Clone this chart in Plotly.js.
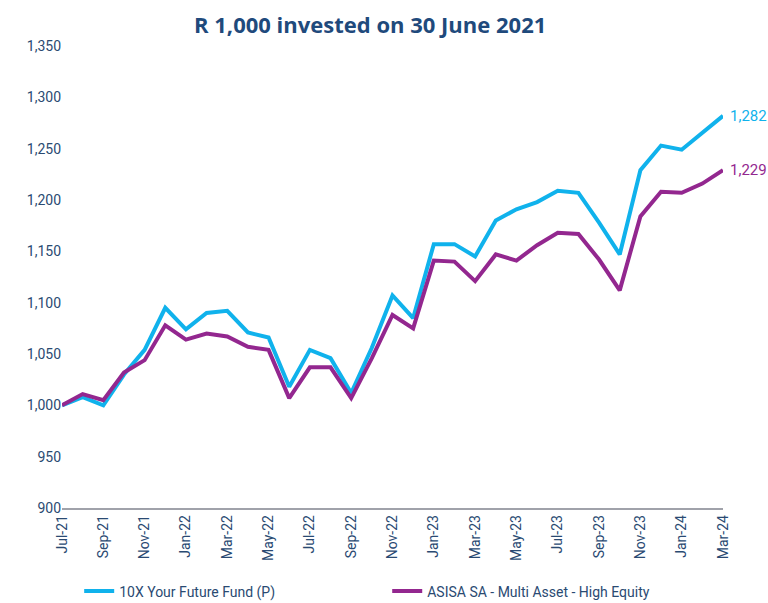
<!DOCTYPE html>
<html><head><meta charset="utf-8">
<script src="https://cdn.plot.ly/plotly-3.0.1.min.js"></script>
<style>body{margin:0;background:#fff}#c{width:768px;height:603px}</style>
</head><body><div id="c"></div>
<script>
const months = ["Jul-21","Aug-21","Sep-21","Oct-21","Nov-21","Dec-21","Jan-22","Feb-22","Mar-22","Apr-22","May-22","Jun-22","Jul-22","Aug-22","Sep-22","Oct-22","Nov-22","Dec-22","Jan-23","Feb-23","Mar-23","Apr-23","May-23","Jun-23","Jul-23","Aug-23","Sep-23","Oct-23","Nov-23","Dec-23","Jan-24","Feb-24","Mar-24"];
const fundName = "10X Your Future Fund (P)";
const fundValues = [1000,1008,1000,1030,1054,1095,1074,1090,1092,1071,1066,1018,1054,1046,1012,1056,1107,1085,1157,1157,1145,1180,1191,1198,1209,1207,1178,1147,1229,1253,1249,1265,1282];
const peerName = "ASISA SA - Multi Asset - High Equity";
const peerValues = [1000,1011,1005,1032,1044,1078,1064,1070,1067,1057,1054,1007,1037,1037,1007,1046,1088,1075,1141,1140,1121,1147,1141,1156,1168,1167,1142,1112,1184,1208,1207,1216,1229];
const tickLabels = months.filter((m,i)=>i%2===0);
const yTicks = [900,950,1000,1050,1100,1150,1200,1250,1300,1350];

const blue = "#10b2ec", purple = "#93278f", textCol = "#2a4a72";
const n = months.length;
const traces = [
  {x: months, y: fundValues, name: fundName, type: "scatter", mode: "lines", line: {color: blue, width: 4}, legend: "legend"},
  {x: months, y: peerValues, name: peerName, type: "scatter", mode: "lines", line: {color: purple, width: 4}, legend: "legend2"}
];
const legendBase = {orientation: "h", xanchor: "left", y: -0.146, yanchor: "top", font: {size: 14, color: textCol}, bgcolor: "rgba(0,0,0,0)"};
const layout = {
  width: 768, height: 603,
  margin: {l: 62, r: 45, t: 46, b: 95, autoexpand: false},
  paper_bgcolor: "#fff", plot_bgcolor: "#fff",
  font: {family: "Roboto, 'Liberation Sans', sans-serif", size: 14, color: textCol},
  title: {text: "<b>R 1,000 invested on 30 June 2021</b>", x: 0.482, xanchor: "center", y: 0.958, yanchor: "middle",
          font: {family: "'Open Sans', sans-serif", size: 22, color: "#1f4a7c"}},
  showlegend: true,
  legend: Object.assign({}, legendBase, {x: 0.026}),
  legend2: Object.assign({}, legendBase, {x: 0.492}),
  xaxis: {type: "category", range: [0, n-1], tickmode: "array", tickvals: tickLabels, ticktext: tickLabels,
          tickangle: -90, showgrid: false, zeroline: false, showline: true, linecolor: "#a0a2aa", linewidth: 1.5,
          ticks: "", automargin: false, tickfont: {size: 14, color: textCol}},
  yaxis: {range: [900, 1350], tickmode: "array", tickvals: yTicks, tickformat: ",d", showgrid: false,
          zeroline: false, showline: false, ticks: "", automargin: false, tickfont: {size: 14, color: textCol}},
  annotations: [
    {x: n-1, y: fundValues[n-1], xref: "x", yref: "y", text: fundValues[n-1].toLocaleString("en-US"), showarrow: false,
     xanchor: "left", xshift: 5, font: {size: 15, color: blue}},
    {x: n-1, y: peerValues[n-1], xref: "x", yref: "y", text: peerValues[n-1].toLocaleString("en-US"), showarrow: false,
     xanchor: "left", xshift: 5, font: {size: 15, color: purple}}
  ]
};
Plotly.newPlot("c", traces, layout, {displayModeBar: false, staticPlot: true});
</script></body></html>
